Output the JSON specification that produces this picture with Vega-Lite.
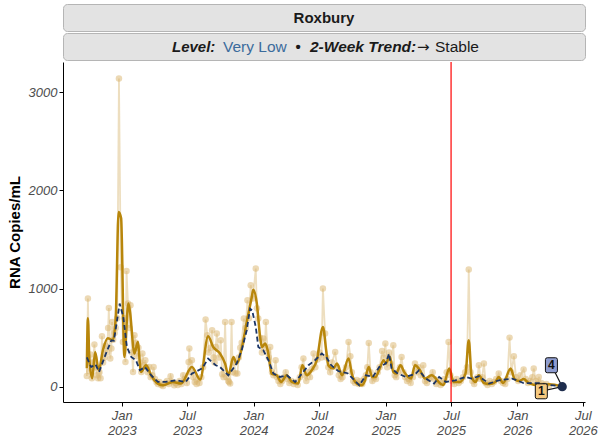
{
  "$schema": "https://vega.github.io/schema/vega-lite/v6.json",
  "padding": {"left": 7, "top": 3, "right": 0, "bottom": 0},
  "spacing": 0,
  "config": {
    "font": "Liberation Sans",
    "view": {"stroke": null},
    "axis": {"grid": false, "domainColor": "#000000", "domainWidth": 1, "tickColor": "#000000", "tickSize": 4, "labelFont": "Liberation Sans", "labelFontSize": 13, "labelFontStyle": "italic", "labelColor": "#4d4d4d", "titleFont": "Liberation Sans"}
  },
  "datasets": {
    "raw": [
      {"d":"2022-09-26","v":112},{"d":"2022-09-29","v":900},{"d":"2022-10-03","v":160},{"d":"2022-10-06","v":330},{"d":"2022-10-10","v":88},{"d":"2022-10-13","v":250},{"d":"2022-10-17","v":431},{"d":"2022-10-20","v":200},{"d":"2022-10-24","v":120},{"d":"2022-10-27","v":88},{"d":"2022-10-31","v":150},{"d":"2022-11-03","v":88},{"d":"2022-11-07","v":516},{"d":"2022-11-10","v":250},{"d":"2022-11-14","v":300},{"d":"2022-11-17","v":420},{"d":"2022-11-21","v":350},{"d":"2022-11-24","v":600},{"d":"2022-11-26","v":804},{"d":"2022-11-30","v":289},{"d":"2022-12-03","v":391},{"d":"2022-12-05","v":661},{"d":"2022-12-08","v":480},{"d":"2022-12-12","v":550},{"d":"2022-12-15","v":600},{"d":"2022-12-19","v":700},{"d":"2022-12-24","v":3137},{"d":"2022-12-29","v":1218},
      {"d":"2023-01-04","v":458},{"d":"2023-01-08","v":700},{"d":"2023-01-11","v":254},{"d":"2023-01-14","v":1180},{"d":"2023-01-18","v":848},{"d":"2023-01-22","v":600},{"d":"2023-01-25","v":831},{"d":"2023-01-29","v":350},{"d":"2023-02-01","v":153},{"d":"2023-02-05","v":526},{"d":"2023-02-09","v":450},{"d":"2023-02-13","v":312},{"d":"2023-02-16","v":400},{"d":"2023-02-20","v":250},{"d":"2023-02-24","v":153},{"d":"2023-02-27","v":340},{"d":"2023-03-03","v":220},{"d":"2023-03-07","v":272},{"d":"2023-03-10","v":203},{"d":"2023-03-14","v":150},{"d":"2023-03-18","v":203},{"d":"2023-03-22","v":100},{"d":"2023-03-26","v":120},{"d":"2023-03-30","v":203},{"d":"2023-04-03","v":80},{"d":"2023-04-07","v":51},{"d":"2023-04-11","v":30},{"d":"2023-04-15","v":51},{"d":"2023-04-20","v":20},{"d":"2023-04-25","v":10},{"d":"2023-05-01","v":40},{"d":"2023-05-06","v":60},{"d":"2023-05-11","v":30},{"d":"2023-05-16","v":109},{"d":"2023-05-21","v":50},{"d":"2023-05-26","v":17},{"d":"2023-05-31","v":40},{"d":"2023-06-05","v":20},{"d":"2023-06-10","v":60},{"d":"2023-06-15","v":30},{"d":"2023-06-20","v":119},{"d":"2023-06-25","v":80},{"d":"2023-06-30","v":40},{"d":"2023-07-05","v":254},{"d":"2023-07-07","v":391},{"d":"2023-07-10","v":150},{"d":"2023-07-14","v":272},{"d":"2023-07-18","v":100},{"d":"2023-07-22","v":50},{"d":"2023-07-27","v":30},{"d":"2023-07-31","v":80},{"d":"2023-08-04","v":40},{"d":"2023-08-09","v":100},{"d":"2023-08-14","v":200},{"d":"2023-08-21","v":686},{"d":"2023-08-26","v":526},{"d":"2023-08-30","v":350},{"d":"2023-09-04","v":400},{"d":"2023-09-08","v":577},{"d":"2023-09-12","v":300},{"d":"2023-09-15","v":250},{"d":"2023-09-18","v":407},{"d":"2023-09-21","v":543},{"d":"2023-09-27","v":300},{"d":"2023-10-02","v":475},{"d":"2023-10-06","v":130},{"d":"2023-10-10","v":100},{"d":"2023-10-14","v":661},{"d":"2023-10-18","v":100},{"d":"2023-10-23","v":60},{"d":"2023-10-25","v":51},{"d":"2023-10-28","v":34},{"d":"2023-11-01","v":661},{"d":"2023-11-04","v":150},{"d":"2023-11-08","v":250},{"d":"2023-11-12","v":136},{"d":"2023-11-17","v":136},{"d":"2023-11-21","v":300},{"d":"2023-11-25","v":400},{"d":"2023-11-29","v":450},{"d":"2023-12-05","v":696},{"d":"2023-12-10","v":600},{"d":"2023-12-15","v":882},{"d":"2023-12-19","v":700},{"d":"2023-12-24","v":1035},{"d":"2023-12-30","v":900},
      {"d":"2024-01-07","v":1204},{"d":"2024-01-10","v":800},{"d":"2024-01-14","v":696},{"d":"2024-01-19","v":500},{"d":"2024-01-24","v":350},{"d":"2024-01-28","v":492},{"d":"2024-02-01","v":400},{"d":"2024-02-04","v":661},{"d":"2024-02-09","v":350},{"d":"2024-02-12","v":300},{"d":"2024-02-16","v":407},{"d":"2024-02-21","v":150},{"d":"2024-02-25","v":120},{"d":"2024-03-02","v":272},{"d":"2024-03-06","v":100},{"d":"2024-03-10","v":60},{"d":"2024-03-15","v":30},{"d":"2024-03-20","v":60},{"d":"2024-03-25","v":100},{"d":"2024-03-30","v":150},{"d":"2024-04-04","v":80},{"d":"2024-04-09","v":40},{"d":"2024-04-15","v":60},{"d":"2024-04-21","v":30},{"d":"2024-04-27","v":50},{"d":"2024-05-02","v":20},{"d":"2024-05-08","v":100},{"d":"2024-05-13","v":200},{"d":"2024-05-18","v":289},{"d":"2024-05-22","v":120},{"d":"2024-05-26","v":60},{"d":"2024-05-31","v":150},{"d":"2024-06-05","v":100},{"d":"2024-06-10","v":180},{"d":"2024-06-15","v":340},{"d":"2024-06-20","v":200},{"d":"2024-06-26","v":280},{"d":"2024-07-02","v":350},{"d":"2024-07-07","v":300},{"d":"2024-07-11","v":1001},{"d":"2024-07-17","v":543},{"d":"2024-07-21","v":300},{"d":"2024-07-26","v":200},{"d":"2024-07-31","v":150},{"d":"2024-08-05","v":250},{"d":"2024-08-14","v":356},{"d":"2024-08-19","v":200},{"d":"2024-08-24","v":120},{"d":"2024-08-29","v":80},{"d":"2024-09-03","v":100},{"d":"2024-09-08","v":150},{"d":"2024-09-13","v":200},{"d":"2024-09-20","v":458},{"d":"2024-09-25","v":312},{"d":"2024-09-29","v":150},{"d":"2024-10-03","v":60},{"d":"2024-10-08","v":40},{"d":"2024-10-13","v":70},{"d":"2024-10-18","v":30},{"d":"2024-10-23","v":60},{"d":"2024-10-28","v":30},{"d":"2024-11-02","v":80},{"d":"2024-11-07","v":120},{"d":"2024-11-11","v":200},{"d":"2024-11-15","v":448},{"d":"2024-11-20","v":150},{"d":"2024-11-25","v":60},{"d":"2024-11-30","v":100},{"d":"2024-12-05","v":80},{"d":"2024-12-10","v":150},{"d":"2024-12-15","v":200},{"d":"2024-12-22","v":366},{"d":"2024-12-27","v":300},{"d":"2024-12-31","v":441},
      {"d":"2025-01-05","v":200},{"d":"2025-01-10","v":350},{"d":"2025-01-15","v":240},{"d":"2025-01-22","v":424},{"d":"2025-01-26","v":120},{"d":"2025-01-30","v":100},{"d":"2025-02-04","v":150},{"d":"2025-02-09","v":200},{"d":"2025-02-14","v":305},{"d":"2025-02-19","v":150},{"d":"2025-02-24","v":100},{"d":"2025-03-01","v":60},{"d":"2025-03-06","v":80},{"d":"2025-03-11","v":40},{"d":"2025-03-17","v":100},{"d":"2025-03-23","v":238},{"d":"2025-03-28","v":150},{"d":"2025-04-02","v":200},{"d":"2025-04-08","v":120},{"d":"2025-04-15","v":221},{"d":"2025-04-20","v":60},{"d":"2025-04-25","v":40},{"d":"2025-05-01","v":80},{"d":"2025-05-06","v":100},{"d":"2025-05-11","v":150},{"d":"2025-05-16","v":80},{"d":"2025-05-21","v":30},{"d":"2025-05-27","v":60},{"d":"2025-06-02","v":20},{"d":"2025-06-07","v":40},{"d":"2025-06-13","v":80},{"d":"2025-06-19","v":150},{"d":"2025-06-24","v":458},{"d":"2025-06-29","v":120},{"d":"2025-07-04","v":60},{"d":"2025-07-10","v":30},{"d":"2025-07-16","v":80},{"d":"2025-07-22","v":40},{"d":"2025-07-28","v":60},{"d":"2025-08-03","v":100},{"d":"2025-08-09","v":150},{"d":"2025-08-14","v":200},{"d":"2025-08-19","v":1194},{"d":"2025-08-24","v":150},{"d":"2025-08-29","v":60},{"d":"2025-09-03","v":30},{"d":"2025-09-08","v":80},{"d":"2025-09-12","v":100},{"d":"2025-09-16","v":221},{"d":"2025-09-21","v":80},{"d":"2025-09-25","v":100},{"d":"2025-09-30","v":238},{"d":"2025-10-05","v":40},{"d":"2025-10-10","v":20},{"d":"2025-10-16","v":60},{"d":"2025-10-22","v":30},{"d":"2025-10-28","v":50},{"d":"2025-11-03","v":80},{"d":"2025-11-10","v":136},{"d":"2025-11-16","v":60},{"d":"2025-11-22","v":40},{"d":"2025-11-28","v":30},{"d":"2025-12-04","v":80},{"d":"2025-12-10","v":502},{"d":"2025-12-15","v":150},{"d":"2025-12-22","v":312},{"d":"2025-12-28","v":100},
      {"d":"2026-01-03","v":60},{"d":"2026-01-09","v":120},{"d":"2026-01-18","v":177},{"d":"2026-01-24","v":80},{"d":"2026-01-30","v":40},{"d":"2026-02-05","v":60},{"d":"2026-02-11","v":100},{"d":"2026-02-15","v":187},{"d":"2026-02-21","v":60},{"d":"2026-02-27","v":30},{"d":"2026-03-01","v":102},{"d":"2026-03-08","v":40},{"d":"2026-03-15","v":20},{"d":"2026-03-22","v":30},{"d":"2026-03-29","v":10}
    ],
    "smooth": [
      {"d":"2022-09-26","v":190},{"d":"2022-09-29","v":700},{"d":"2022-10-03","v":280},{"d":"2022-10-11","v":88},{"d":"2022-10-19","v":356},{"d":"2022-10-29","v":170},{"d":"2022-11-10","v":380},{"d":"2022-11-23","v":495},{"d":"2022-12-07","v":475},{"d":"2022-12-15","v":700},{"d":"2022-12-23","v":1780},{"d":"2022-12-30","v":1716},{"d":"2023-01-08","v":305},{"d":"2023-01-19","v":848},{"d":"2023-01-23","v":780},{"d":"2023-02-05","v":340},{"d":"2023-02-14","v":458},{"d":"2023-02-23","v":153},{"d":"2023-03-09","v":221},{"d":"2023-03-23","v":119},{"d":"2023-04-11","v":34},{"d":"2023-04-25","v":17},{"d":"2023-05-22","v":51},{"d":"2023-06-14","v":34},{"d":"2023-07-14","v":203},{"d":"2023-08-06","v":75},{"d":"2023-08-28","v":516},{"d":"2023-09-11","v":407},{"d":"2023-09-30","v":340},{"d":"2023-10-14","v":238},{"d":"2023-10-23","v":119},{"d":"2023-11-06","v":305},{"d":"2023-11-15","v":238},{"d":"2023-11-29","v":391},{"d":"2023-12-13","v":661},{"d":"2023-12-27","v":916},{"d":"2023-12-31","v":990},{"d":"2024-01-10","v":848},{"d":"2024-01-19","v":509},{"d":"2024-01-24","v":407},{"d":"2024-02-02","v":441},{"d":"2024-02-09","v":373},{"d":"2024-02-20","v":136},{"d":"2024-03-05","v":119},{"d":"2024-03-17","v":51},{"d":"2024-04-02","v":119},{"d":"2024-04-16","v":51},{"d":"2024-05-04","v":34},{"d":"2024-05-15","v":221},{"d":"2024-05-27","v":119},{"d":"2024-06-10","v":170},{"d":"2024-06-24","v":272},{"d":"2024-07-11","v":610},{"d":"2024-07-20","v":373},{"d":"2024-07-26","v":221},{"d":"2024-08-09","v":187},{"d":"2024-08-19","v":238},{"d":"2024-09-02","v":119},{"d":"2024-09-20","v":289},{"d":"2024-09-29","v":136},{"d":"2024-10-13","v":34},{"d":"2024-10-27","v":17},{"d":"2024-11-03","v":51},{"d":"2024-11-15","v":203},{"d":"2024-11-24","v":102},{"d":"2024-12-03","v":102},{"d":"2024-12-17","v":203},{"d":"2024-12-26","v":272},{"d":"2025-01-01","v":240},{"d":"2025-01-12","v":310},{"d":"2025-01-22","v":153},{"d":"2025-01-29","v":136},{"d":"2025-02-11","v":220},{"d":"2025-02-21","v":153},{"d":"2025-03-12","v":85},{"d":"2025-03-23","v":221},{"d":"2025-04-06","v":170},{"d":"2025-04-20","v":85},{"d":"2025-05-08","v":119},{"d":"2025-06-03","v":30},{"d":"2025-06-10","v":20},{"d":"2025-06-26","v":187},{"d":"2025-07-08","v":51},{"d":"2025-07-24","v":50},{"d":"2025-08-10","v":136},{"d":"2025-08-19","v":475},{"d":"2025-08-27","v":102},{"d":"2025-09-07","v":51},{"d":"2025-09-16","v":119},{"d":"2025-09-30","v":40},{"d":"2025-10-14","v":30},{"d":"2025-11-01","v":51},{"d":"2025-11-10","v":102},{"d":"2025-11-22","v":40},{"d":"2025-12-13","v":187},{"d":"2025-12-24","v":80},{"d":"2026-01-06","v":60},{"d":"2026-01-18","v":80},{"d":"2026-02-01","v":40},{"d":"2026-03-01","v":17},{"d":"2026-03-29","v":27},{"d":"2026-05-05","v":5}
    ],
    "avg": [
      {"d":"2022-09-26","v":300},{"d":"2022-10-08","v":203},{"d":"2022-10-20","v":230},{"d":"2022-10-30","v":153},{"d":"2022-11-18","v":340},{"d":"2022-12-03","v":475},{"d":"2022-12-10","v":470},{"d":"2022-12-26","v":848},{"d":"2023-01-05","v":712},{"d":"2023-01-15","v":407},{"d":"2023-01-27","v":305},{"d":"2023-02-09","v":272},{"d":"2023-02-20","v":170},{"d":"2023-03-06","v":203},{"d":"2023-03-23","v":119},{"d":"2023-04-11","v":51},{"d":"2023-05-02","v":51},{"d":"2023-05-30","v":68},{"d":"2023-06-27","v":51},{"d":"2023-07-14","v":136},{"d":"2023-07-24","v":153},{"d":"2023-08-12","v":190},{"d":"2023-08-28","v":289},{"d":"2023-09-18","v":221},{"d":"2023-09-30","v":203},{"d":"2023-10-23","v":119},{"d":"2023-11-15","v":238},{"d":"2023-11-29","v":373},{"d":"2023-12-13","v":577},{"d":"2023-12-22","v":797},{"d":"2023-12-28","v":780},{"d":"2024-01-07","v":610},{"d":"2024-01-14","v":407},{"d":"2024-01-28","v":373},{"d":"2024-02-11","v":272},{"d":"2024-02-25","v":136},{"d":"2024-03-14","v":102},{"d":"2024-04-02","v":119},{"d":"2024-04-25","v":51},{"d":"2024-05-14","v":136},{"d":"2024-06-01","v":221},{"d":"2024-06-19","v":272},{"d":"2024-07-08","v":340},{"d":"2024-07-20","v":305},{"d":"2024-08-03","v":221},{"d":"2024-08-23","v":160},{"d":"2024-09-17","v":140},{"d":"2024-10-20","v":17},{"d":"2024-11-07","v":119},{"d":"2024-11-26","v":102},{"d":"2024-12-14","v":203},{"d":"2025-01-01","v":238},{"d":"2025-01-10","v":340},{"d":"2025-01-17","v":190},{"d":"2025-02-02","v":140},{"d":"2025-02-25","v":102},{"d":"2025-03-25","v":136},{"d":"2025-04-03","v":170},{"d":"2025-04-22","v":85},{"d":"2025-05-15","v":34},{"d":"2025-05-29","v":102},{"d":"2025-06-17","v":51},{"d":"2025-07-13","v":68},{"d":"2025-08-10","v":102},{"d":"2025-08-27","v":85},{"d":"2025-09-16","v":110},{"d":"2025-10-14","v":34},{"d":"2025-11-10","v":68},{"d":"2025-12-17","v":85},{"d":"2026-01-18","v":40},{"d":"2026-03-01","v":40},{"d":"2026-03-29","v":20},{"d":"2026-05-05","v":5}
    ],
    "ann": [
      {"d":"2026-04-05","v":221,"lab":"4","grp":"avg"},
      {"d":"2026-03-08","v":-44,"lab":"1","grp":"smooth"}
    ],
    "conn": [
      {"d":"2026-04-05","v":221,"d2":"2026-05-05","v2":3},
      {"d":"2026-03-08","v":-44,"d2":"2026-05-05","v2":3}
    ],
    "last": [
      {"d":"2026-05-05","v":3}
    ]
  },
  "vconcat": [
    {
      "width": 522,
      "height": 27,
      "view": {"fill": "#e3e3e3", "stroke": "#b5b5b5", "strokeWidth": 1, "cornerRadius": 4},
      "data": {"values": [{"t": "Roxbury"}]},
      "mark": {"type": "text", "fontSize": 15, "fontWeight": "bold", "color": "#1a1a1a", "baseline": "middle"},
      "encoding": {"text": {"field": "t"}}
    },
    {
      "width": 522,
      "height": 27,
      "view": {"fill": "#e3e3e3", "stroke": "#b5b5b5", "strokeWidth": 1, "cornerRadius": 4},
      "data": {"values": [{}]},
      "layer": [
        {"mark": {"type": "text", "text": "Level:", "fontSize": 15, "fontWeight": "bold", "fontStyle": "italic", "align": "left", "baseline": "middle", "color": "#1a1a1a"},
         "encoding": {"x": {"datum": 109, "type": "quantitative", "scale": {"domain": [0, 522]}, "axis": null}}},
        {"mark": {"type": "text", "text": "Very Low", "fontSize": 15.5, "align": "left", "baseline": "middle", "color": "#3b6b9c"},
         "encoding": {"x": {"datum": 160, "type": "quantitative", "scale": {"domain": [0, 522]}, "axis": null}}},
        {"mark": {"type": "text", "text": "•", "fontSize": 15, "fontWeight": "bold", "align": "center", "baseline": "middle", "color": "#1a1a1a"},
         "encoding": {"x": {"datum": 235, "type": "quantitative", "scale": {"domain": [0, 522]}, "axis": null}}},
        {"mark": {"type": "text", "text": "2-Week Trend:", "fontSize": 15.5, "fontWeight": "bold", "fontStyle": "italic", "align": "left", "baseline": "middle", "color": "#1a1a1a"},
         "encoding": {"x": {"datum": 247, "type": "quantitative", "scale": {"domain": [0, 522]}, "axis": null}}},
        {"mark": {"type": "text", "text": "→", "font": "DejaVu Sans", "fontSize": 15, "align": "left", "baseline": "middle", "color": "#1a1a1a"},
         "encoding": {"x": {"datum": 354, "type": "quantitative", "scale": {"domain": [0, 522]}, "axis": null}}},
        {"mark": {"type": "text", "text": "Stable", "fontSize": 15.5, "align": "left", "baseline": "middle", "color": "#1a1a1a"},
         "encoding": {"x": {"datum": 372, "type": "quantitative", "scale": {"domain": [0, 522]}, "axis": null}}}
      ]
    },
    {
      "width": 522,
      "height": 340,
      "layer": [
        {
          "data": {"name": "raw"},
          "mark": {"type": "line", "color": "#dfc38a", "strokeWidth": 1.8, "opacity": 0.55},
          "encoding": {
            "x": {"field": "d", "type": "temporal",
                  "scale": {"type": "utc", "domain": [{"year": 2022, "month": 7, "date": 22, "utc": true}, {"year": 2026, "month": 7, "date": 7, "utc": true}]},
                  "axis": {"title": null, "values": [
                    {"year": 2023, "month": 1, "date": 1, "utc": true}, {"year": 2023, "month": 7, "date": 1, "utc": true},
                    {"year": 2024, "month": 1, "date": 1, "utc": true}, {"year": 2024, "month": 7, "date": 1, "utc": true},
                    {"year": 2025, "month": 1, "date": 1, "utc": true}, {"year": 2025, "month": 7, "date": 1, "utc": true},
                    {"year": 2026, "month": 1, "date": 1, "utc": true}, {"year": 2026, "month": 7, "date": 1, "utc": true}],
                    "labelExpr": "[utcFormat(datum.value, '%b'), utcFormat(datum.value, '%Y')]",
                    "labelLineHeight": 15, "labelFlush": false, "labelOverlap": false, "labelBound": false, "labelPadding": 3}},
            "y": {"field": "v", "type": "quantitative",
                  "scale": {"domain": [-153, 3306], "nice": false, "zero": false},
                  "axis": {"values": [0, 1000, 2000, 3000], "format": "d", "title": "RNA Copies/mL", "titleFontSize": 15, "titleFontWeight": "bold", "titleColor": "#000000", "titlePadding": 6, "labelPadding": 2}}
          }
        },
        {
          "data": {"name": "raw"},
          "mark": {"type": "circle", "size": 42, "color": "#d9b36b", "opacity": 0.5},
          "encoding": {"x": {"field": "d", "type": "temporal"}, "y": {"field": "v", "type": "quantitative"}}
        },
        {
          "data": {"name": "smooth"},
          "mark": {"type": "line", "color": "#b8860b", "strokeWidth": 2.5, "interpolate": "monotone"},
          "encoding": {"x": {"field": "d", "type": "temporal"}, "y": {"field": "v", "type": "quantitative"}}
        },
        {
          "data": {"name": "avg"},
          "mark": {"type": "line", "color": "#1b3566", "strokeWidth": 1.8, "strokeDash": [5, 3]},
          "encoding": {"x": {"field": "d", "type": "temporal"}, "y": {"field": "v", "type": "quantitative"}}
        },
        {
          "data": {"values": [{"d": "2025-07-01"}]},
          "mark": {"type": "rule", "color": "#ff0000", "strokeWidth": 1.2},
          "encoding": {"x": {"field": "d", "type": "temporal"}}
        },
        {
          "data": {"name": "conn"},
          "mark": {"type": "rule", "color": "#111111", "strokeWidth": 1.2},
          "encoding": {"x": {"field": "d", "type": "temporal"}, "y": {"field": "v", "type": "quantitative"}, "x2": {"field": "d2"}, "y2": {"field": "v2"}}
        },
        {
          "data": {"name": "last"},
          "mark": {"type": "circle", "size": 85, "color": "#1e2d4d", "opacity": 1},
          "encoding": {"x": {"field": "d", "type": "temporal"}, "y": {"field": "v", "type": "quantitative"}}
        },
        {
          "data": {"name": "ann"},
          "mark": {"type": "point", "shape": "M-0.55,-1L0.55,-1Q0.8,-1 0.8,-0.75L0.8,0.75Q0.8,1 0.55,1L-0.55,1Q-0.8,1 -0.8,0.75L-0.8,-0.75Q-0.8,-1 -0.55,-1Z", "size": 225, "filled": true, "opacity": 1, "stroke": "#111111", "strokeWidth": 1},
          "encoding": {"x": {"field": "d", "type": "temporal"}, "y": {"field": "v", "type": "quantitative"},
                       "fill": {"field": "grp", "type": "nominal", "scale": {"domain": ["avg", "smooth"], "range": ["#8e9ccf", "#f6c97f"]}, "legend": null}}
        },
        {
          "data": {"name": "ann"},
          "mark": {"type": "text", "fontSize": 12, "fontWeight": "bold", "color": "#111111", "baseline": "middle", "align": "center"},
          "encoding": {"x": {"field": "d", "type": "temporal"}, "y": {"field": "v", "type": "quantitative"}, "text": {"field": "lab"}}
        }
      ]
    }
  ]
}
